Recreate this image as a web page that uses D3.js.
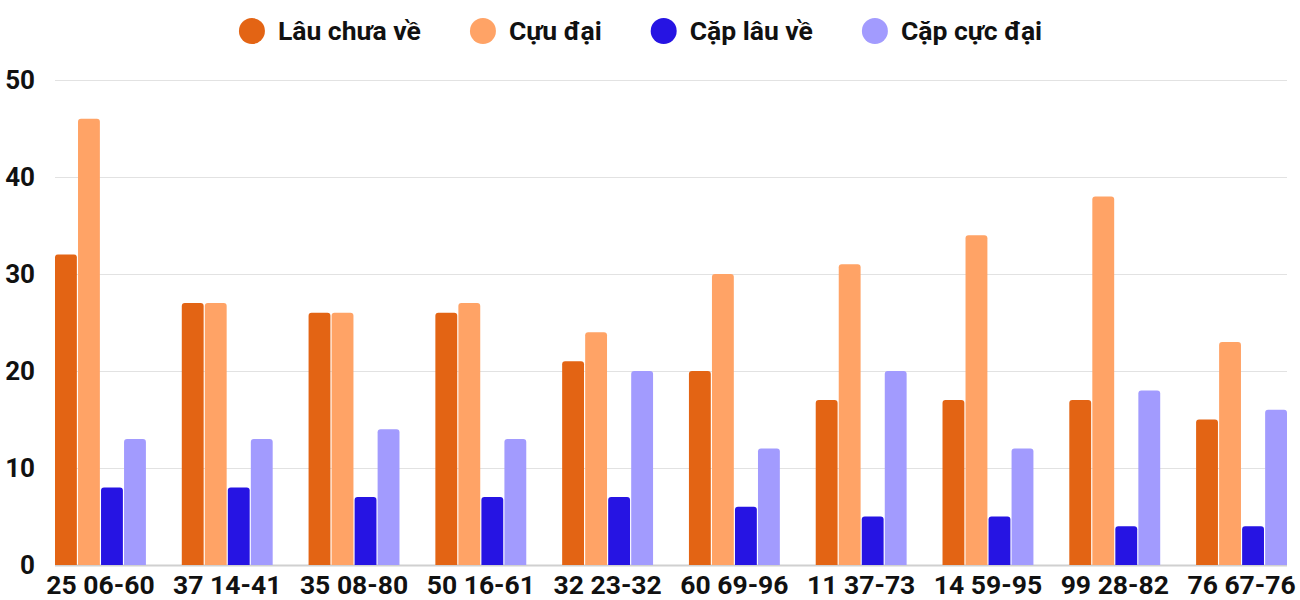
<!DOCTYPE html>
<html lang="vi">
<head>
  <meta charset="UTF-8">
  <title>Chart</title>
  <style>
    body { margin: 0; background: #fff; }
    text { font-family: Roboto, "Noto Sans", sans-serif; font-weight: 700; fill: #111; }
  </style>
</head>
<body>
  <script src="https://cdn.jsdelivr.net/npm/d3@7"></script>
  <script>
    const categories = ['25 06-60', '37 14-41', '35 08-80', '50 16-61', '32 23-32',
      '60 69-96', '11 37-73', '14 59-95', '99 28-82', '76 67-76']
    const seriesNames = ['Lâu chưa về', 'Cựu đại', 'Cặp lâu về', 'Cặp cực đại']
    const lauChuaVe = [32, 27, 26, 26, 21, 20, 17, 17, 17, 15]
    const cuuDai = [46, 27, 26, 27, 24, 30, 31, 34, 38, 23]
    const capLauVe = [8, 8, 7, 7, 7, 6, 5, 5, 4, 4]
    const capCucDai = [13, 13, 14, 13, 20, 12, 20, 12, 18, 16]
    const yTicks = [0, 10, 20, 30, 40, 50]
    const colors = ['#e36414', '#ffa366', '#2614e3', '#a29bfe']

    const series = [lauChuaVe, cuuDai, capLauVe, capCucDai]
    const width = 1300, height = 600
    const svg = d3.select('body').append('svg')
      .attr('width', width)
      .attr('height', height)

    const x = d3.scaleBand()
      .domain(categories)
      .range([55, 1287])
      .paddingInner(0.283)
      .paddingOuter(0)
    const xs = d3.scaleBand()
      .domain(d3.range(series.length))
      .range([0, x.bandwidth()])
      .paddingInner(0.05)
    const y = d3.scaleLinear()
      .domain([0, 50])
      .range([565, 80])

    // grid
    svg.append('g')
      .selectAll('line')
      .data(yTicks)
      .join('line')
      .attr('x1', 55)
      .attr('x2', 1287)
      .attr('y1', d => y(d) + 0.5)
      .attr('y2', d => y(d) + 0.5)
      .attr('stroke', d => d === 0 ? '#d0d0d0' : '#e2e2e2')
      .attr('stroke-width', d => d === 0 ? 2 : 1)

    const yAxis = svg.append('g')
      .attr('transform', 'translate(35,0)')
      .call(d3.axisLeft(y).tickValues(yTicks).tickSize(0).tickPadding(0))
    yAxis.select('.domain').remove()
    yAxis.selectAll('text')
      .attr('font-size', 26)
      .attr('font-family', null)

    // bars with rounded tops
    const r = 3
    function barPath(x0, w, yTop, yBase) {
      const rr = Math.min(r, (yBase - yTop))
      return `M${x0},${yBase}V${yTop + rr}Q${x0},${yTop} ${x0 + rr},${yTop}` +
        `H${x0 + w - rr}Q${x0 + w},${yTop} ${x0 + w},${yTop + rr}V${yBase}Z`
    }

    const groups = svg.append('g')
      .selectAll('g')
      .data(categories)
      .join('g')
      .attr('transform', d => `translate(${x(d)},0)`)

    groups.selectAll('path')
      .data((d, i) => series.map((s, k) => ({ k, v: s[i] })))
      .join('path')
      .attr('d', d => barPath(xs(d.k), xs.bandwidth(), y(d.v), y(0)))
      .attr('fill', d => colors[d.k])

    const xAxis = svg.append('g')
      .attr('transform', `translate(0,${y(0)})`)
      .call(d3.axisBottom(x).tickSize(0).tickPadding(10))
    xAxis.select('.domain').remove()
    xAxis.selectAll('text')
      .attr('font-size', 26.5)
      .attr('font-family', null)

    // legend
    const legend = svg.append('g').attr('transform', 'translate(0,31)')
    const items = legend.selectAll('g')
      .data(seriesNames)
      .join('g')
    items.append('circle')
      .attr('r', 13)
      .attr('cx', 13)
      .attr('fill', (d, i) => colors[i])
    items.append('text')
      .attr('x', 39)
      .attr('dy', '0.35em')
      .attr('font-size', 26.5)
      .text(d => d)
    let pos = 0
    const starts = []
    items.each(function () {
      starts.push(pos)
      const w = d3.select(this).select('text').node().getComputedTextLength()
      pos += 39 + w + 49
    })
    const total = pos - 49
    const x0 = 640.5 - total / 2
    items.attr('transform', (d, i) => `translate(${x0 + starts[i]},0)`)
  </script>
</body>
</html>
